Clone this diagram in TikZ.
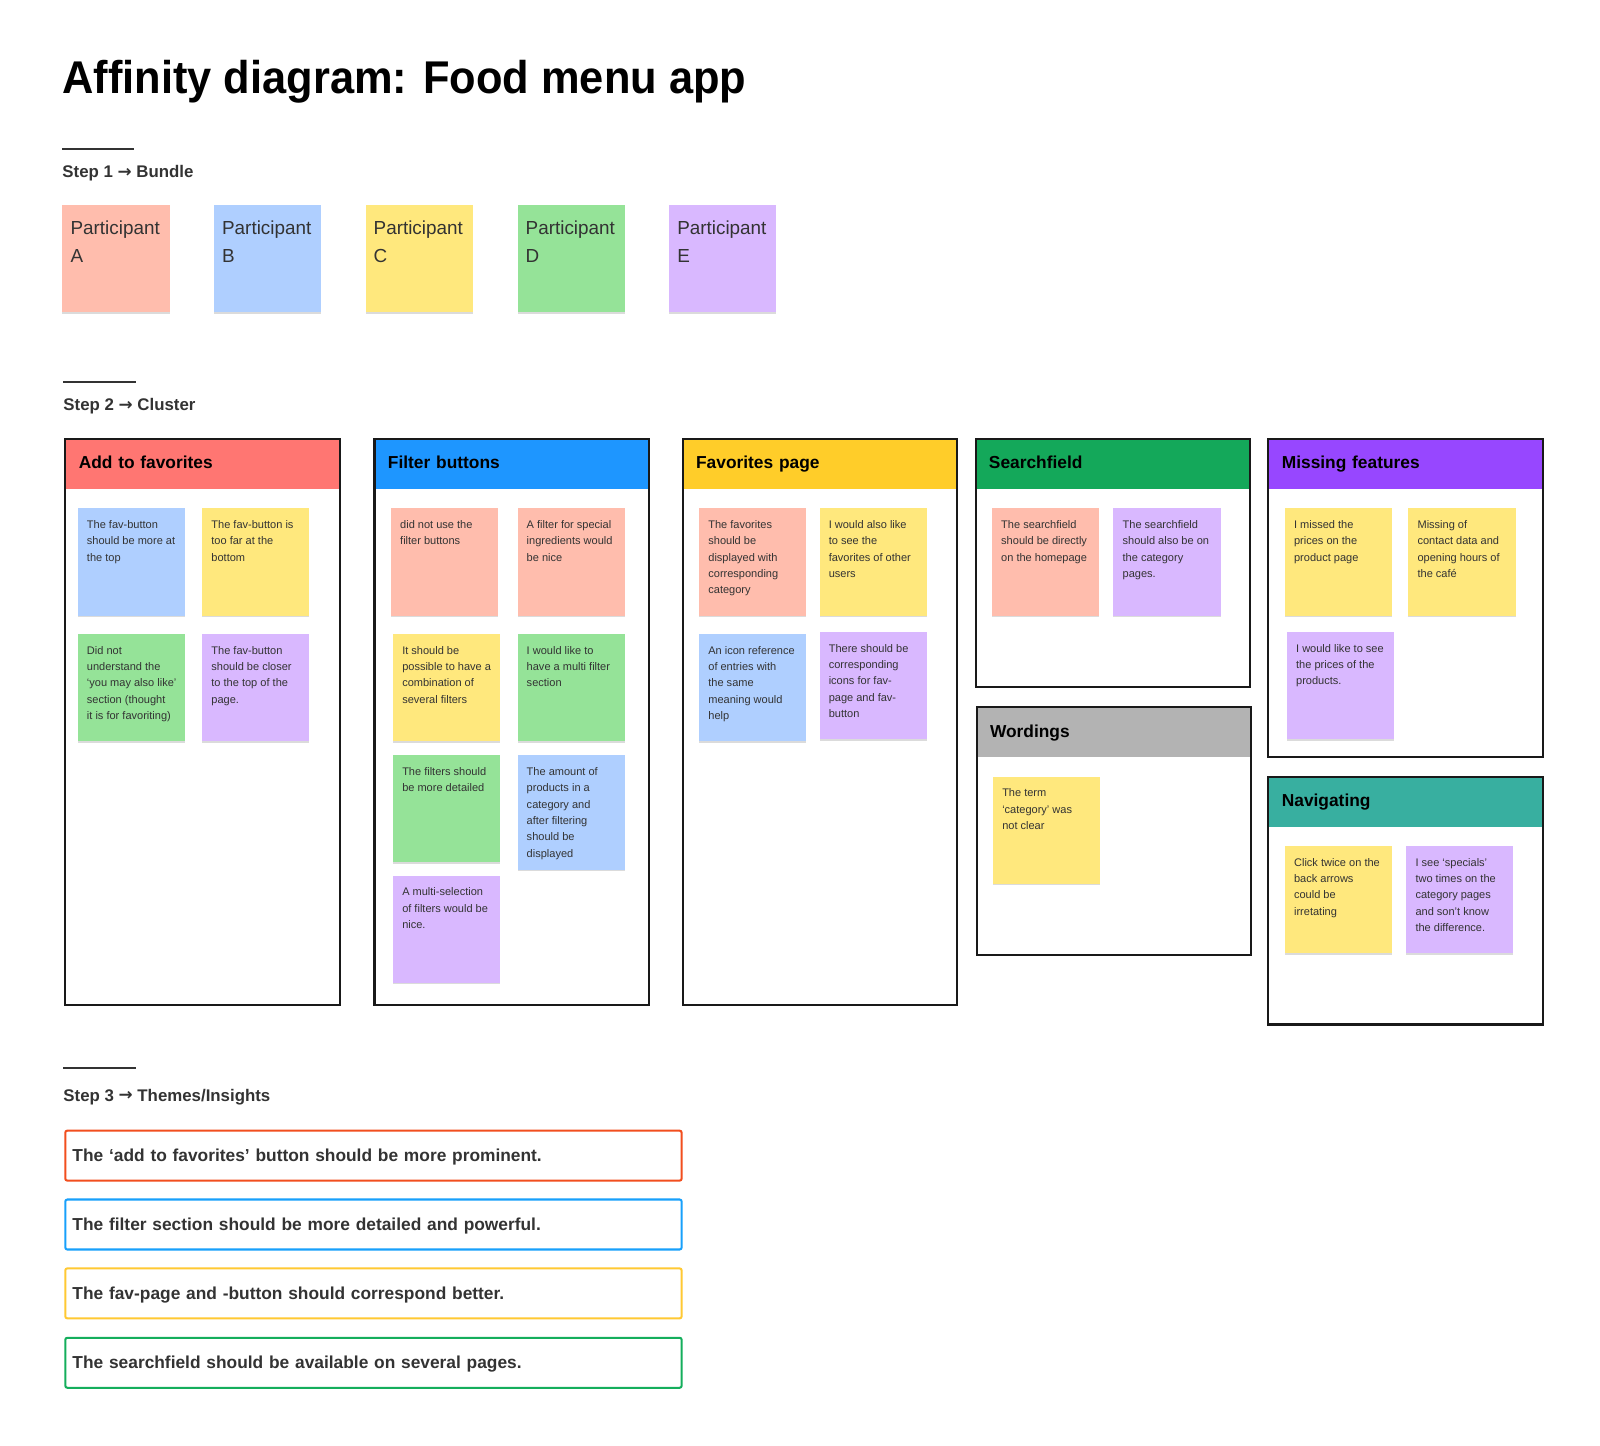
\documentclass[tikz,border=0pt]{standalone}
\usepackage{fontspec}
\setmainfont{Liberation Sans}
\newfontfamily\titlefam[FakeStretch=0.945]{Liberation Sans}
\newfontfamily\arrowfam{DejaVu Sans}
\usetikzlibrary{shadows}
\definecolor{ink}{HTML}{333333}
\definecolor{csalmon}{HTML}{FFBDAD}
\definecolor{cblue}{HTML}{AFCFFF}
\definecolor{cyellow}{HTML}{FFE87D}
\definecolor{cgreen}{HTML}{95E398}
\definecolor{cpurple}{HTML}{D9B8FF}
\definecolor{hred}{HTML}{FF7672}
\definecolor{hblue}{HTML}{1E96FF}
\definecolor{hgold}{HTML}{FFCD29}
\definecolor{hgreen}{HTML}{14A85A}
\definecolor{hgray}{HTML}{B3B3B3}
\definecolor{hpurple}{HTML}{9747FF}
\definecolor{hteal}{HTML}{38AFA0}
\definecolor{ired}{HTML}{F24E1E}
\definecolor{iblue}{HTML}{18A0FB}
\definecolor{iyellow}{HTML}{FFC933}
\definecolor{igreen}{HTML}{14AE5C}
\newcommand\rarr{{\arrowfam\bfseries\raisebox{0.2pt}{→}}}
\tikzset{
  sticky/.style={anchor=north west, minimum width=105pt, minimum height=105pt, inner sep=0pt,
    drop shadow={shadow xshift=0pt, shadow yshift=-1.5pt, opacity=0.14, fill=black}},
  stext/.style={anchor=base west, inner sep=0pt, text=ink,
    font=\fontsize{10.8}{16}\selectfont},
  ptext/.style={anchor=base west, inner sep=0pt, text=ink,
    font=\fontsize{18.5}{27}\selectfont},
  header/.style={anchor=north west, minimum width=269pt, minimum height=50pt, text width=241pt,
    inner xsep=14pt, inner ysep=0pt, align=left, text=black, text height=13pt, text depth=2.5pt,
    font=\fontsize{17}{20}\selectfont\bfseries},
  frame/.style={anchor=north west, draw=black!90, line width=2pt, minimum width=269pt, inner sep=0pt},
  steplabel/.style={anchor=base west, inner sep=0pt, text=ink, font=\fontsize{16.5}{20}\selectfont\bfseries},
  steprule/.style={draw=ink, line width=2pt},
  insight/.style={anchor=north west, line width=2pt, rounded corners=2pt, minimum width=604pt,
    minimum height=49pt, text width=590pt, inner xsep=7pt, inner ysep=0pt, align=left, text=ink,
    text height=12.5pt, text depth=0.5pt,
    font=\fontsize{17}{20}\selectfont\bfseries},
}
\newcommand\stick[5]{%
  \node[sticky, fill=#4] (#1) at (#2,#3) {};
  \node[stext] (#1t) at ([shift={(9,20)}]#1.north west) {\parbox[t]{100pt}{#5}};}
\newcommand\partic[4]{%
  \node[sticky, fill=#3] (#1) at (#2,201) {};
  \node[ptext] (#1t) at ([shift={(8,29)}]#1.north west) {\parbox[t]{100pt}{Participant\\#4}};}
\newcommand\cluster[7]{%
  \node[header, fill=#6] (#1h) at (#2,#3) {#7};
  \node[frame, minimum height=#5pt] (#1) at (#2,#3) {};}
\begin{document}
\begin{tikzpicture}[x=1pt,y=-1pt]
\fill[white] (0,0) rectangle (1568,1416.1);
% title
\node[anchor=base west, inner sep=0pt, font=\titlefam\fontsize{45}{50}\selectfont\bfseries, text=black] (title) at (61,92) {Affinity diagram: Food menu app};
% step 1
\coordinate (r1a) at (61,146); \coordinate (r1b) at (131,146);
\draw[steprule] (r1a) -- (r1b);
\node[steplabel] (step1) at (61,174) {Step 1 \rarr\ Bundle};
\partic{pa}{61}{csalmon}{A}
\partic{pb}{209.5}{cblue}{B}
\partic{pc}{358}{cyellow}{C}
\partic{pd}{507}{cgreen}{D}
\partic{pe}{655.5}{cpurple}{E}
% step 2
\coordinate (r2a) at (62,374); \coordinate (r2b) at (133,374);
\draw[steprule] (r2a) -- (r2b);
\node[steplabel] (step2) at (62,402) {Step 2 \rarr\ Cluster};
\cluster{fa}{63}{429}{269}{555}{hred}{Add to favorites}
\cluster{fb}{366}{429}{269}{555}{hblue}{Filter buttons}
\cluster{fc}{668}{429}{269}{555}{hgold}{Favorites page}
\cluster{fd}{955}{429}{269}{243}{hgreen}{Searchfield}
\cluster{fe}{956}{692}{269}{243}{hgray}{Wordings}
\cluster{ff}{1242}{429}{269}{312}{hpurple}{Missing features}
\cluster{fg}{1242}{760}{269}{243}{hteal}{Navigating}
% add to favorites
\stick{a1}{76}{498}{cblue}{The fav-button\\should be more at\\the top}
\stick{a2}{198}{498}{cyellow}{The fav-button is\\too far at the\\bottom}
\stick{a3}{76}{621}{cgreen}{Did not\\understand the\\‘you may also like’\\section (thought\\it is for favoriting)}
\stick{a4}{198}{621}{cpurple}{The fav-button\\should be closer\\to the top of the\\page.}
% filter buttons
\stick{b1}{383}{498}{csalmon}{did not use the\\filter buttons}
\stick{b2}{507}{498}{csalmon}{A filter for special\\ingredients would\\be nice}
\stick{b3}{385}{621}{cyellow}{It should be\\possible to have a\\combination of\\several filters}
\stick{b4}{507}{621}{cgreen}{I would like to\\have a multi filter\\section}
\stick{b5}{385}{740}{cgreen}{The filters should\\be more detailed}
\node[sticky, fill=cblue, minimum height=112pt] (b6) at (507,740) {};
\node[stext] (b6t) at ([shift={(9,20)}]b6.north west) {\parbox[t]{100pt}{The amount of\\products in a\\category and\\after filtering\\should be\\displayed}};
\stick{b7}{385}{858}{cpurple}{A multi-selection\\of filters would be\\nice.}
% favorites page
\stick{c1}{685}{498}{csalmon}{The favorites\\should be\\displayed with\\corresponding\\category}
\stick{c2}{803}{498}{cyellow}{I would also like\\to see the\\favorites of other\\users}
\stick{c3}{685}{621}{cblue}{An icon reference\\of entries with\\the same\\meaning would\\help}
\stick{c4}{803}{619}{cpurple}{There should be\\corresponding\\icons for fav-\\page and fav-\\button}
% searchfield
\stick{d1}{972}{498}{csalmon}{The searchfield\\should be directly\\on the homepage}
\stick{d2}{1091}{498}{cpurple}{The searchfield\\should also be on\\the category\\pages.}
% wordings
\stick{e1}{973}{761}{cyellow}{The term\\‘category’ was\\not clear}
% missing features
\stick{g1}{1259}{498}{cyellow}{I missed the\\prices on the\\product page}
\stick{g2}{1380}{498}{cyellow}{Missing of\\contact data and\\opening hours of\\the café}
\stick{g3}{1261}{619}{cpurple}{I would like to see\\the prices of the\\products.}
% navigating
\stick{h1}{1259}{829}{cyellow}{Click twice on the\\back arrows\\could be\\irretating}
\stick{h2}{1378}{829}{cpurple}{I see ‘specials’\\two times on the\\category pages\\and son’t know\\the difference.}
% step 3
\coordinate (r3a) at (62,1047); \coordinate (r3b) at (133,1047);
\draw[steprule] (r3a) -- (r3b);
\node[steplabel] (step3) at (62,1079) {Step 3 \rarr\ Themes/Insights};
\node[insight, draw=ired] (i1) at (63,1107) {The ‘add to favorites’ button should be more prominent.};
\node[insight, draw=iblue] (i2) at (63,1174.5) {The filter section should be more detailed and powerful.};
\node[insight, draw=iyellow] (i3) at (63,1242) {The fav-page and -button should correspond better.};
\node[insight, draw=igreen] (i4) at (63,1310) {The searchfield should be available on several pages.};
\pgfresetboundingbox
\path[use as bounding box] (0,0) rectangle (1568,1416.1);
\end{tikzpicture}
\end{document}
